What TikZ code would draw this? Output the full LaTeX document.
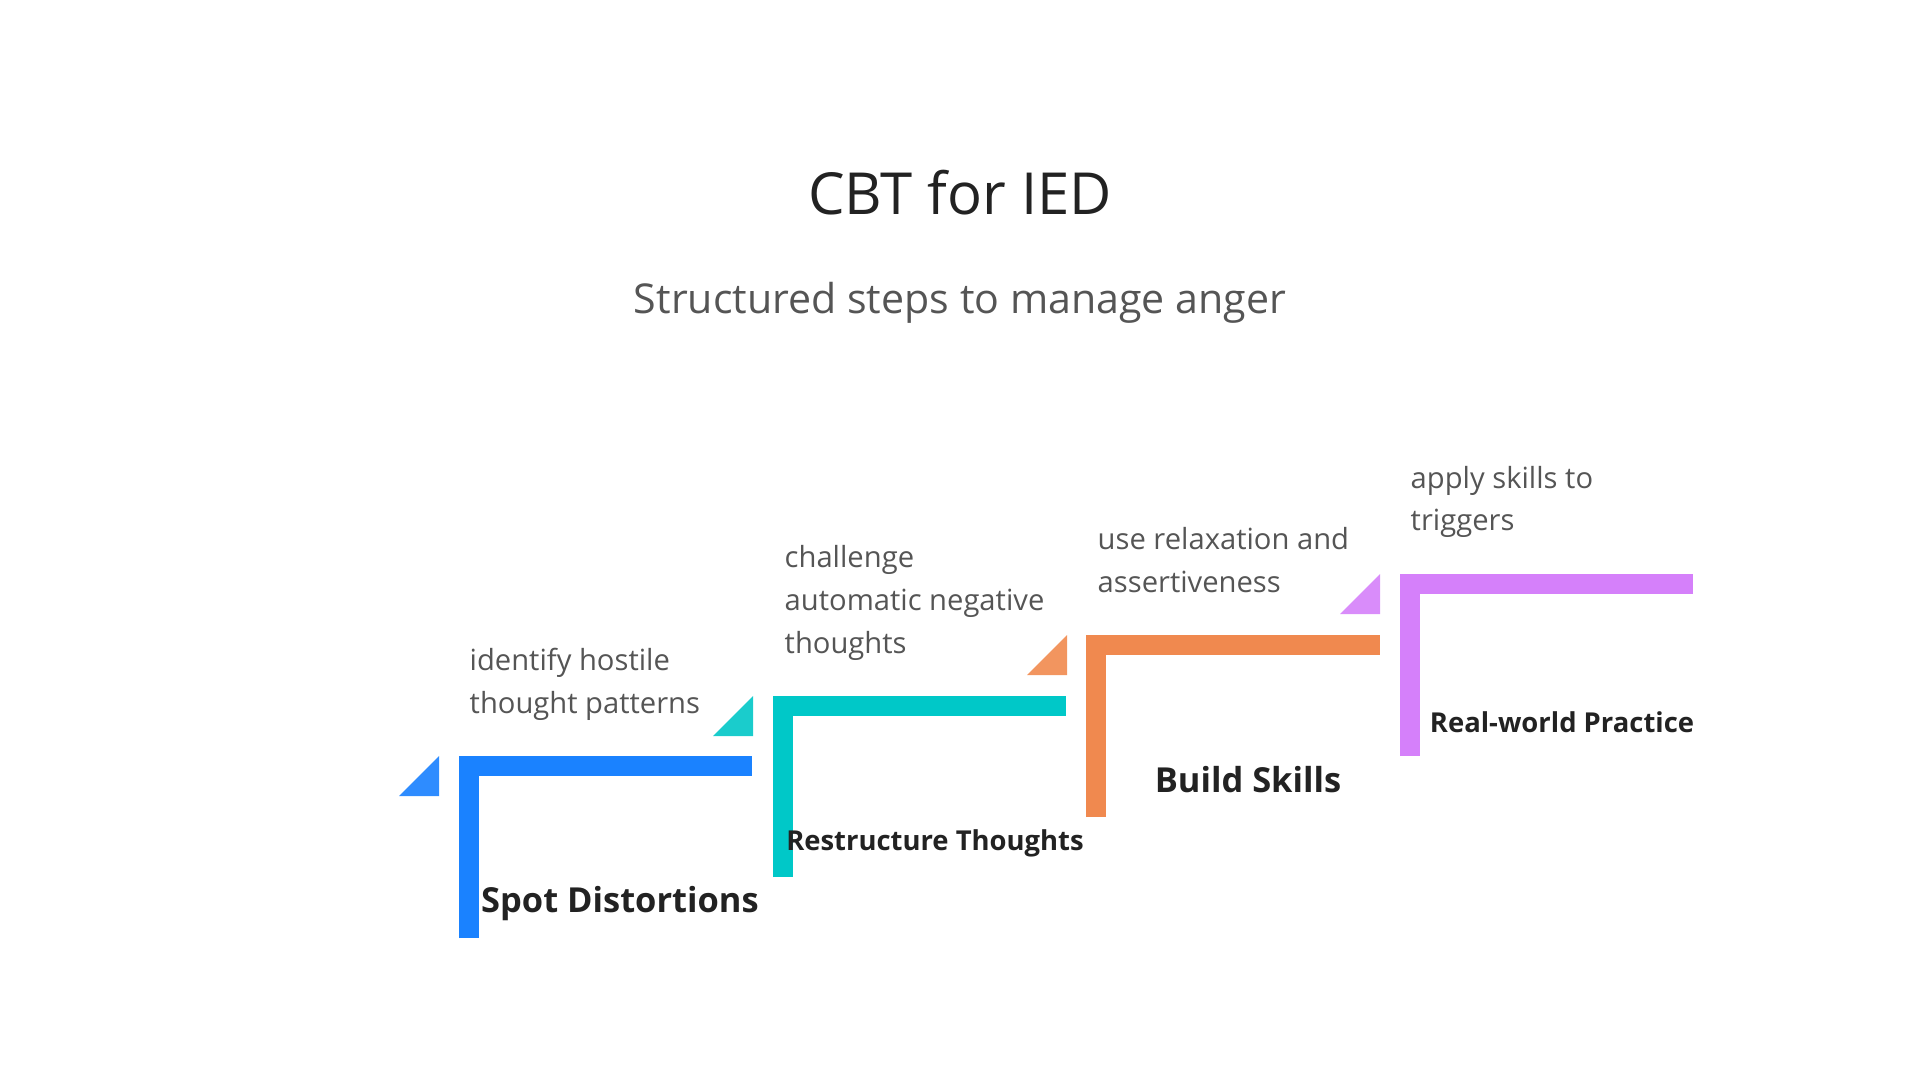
\documentclass[tikz,border=0pt]{standalone}
\usepackage{fontspec}
\setmainfont{Open Sans}
\definecolor{sdblue}{RGB}{26,130,255}
\definecolor{sdbluelt}{RGB}{46,140,255}
\definecolor{rtteal}{RGB}{0,200,200}
\definecolor{rttealt}{RGB}{26,204,204}
\definecolor{bsorange}{RGB}{240,137,79}
\definecolor{bsorangelt}{RGB}{242,149,95}
\definecolor{rwpurple}{RGB}{213,128,250}
\definecolor{rwpurplelt}{RGB}{217,140,250}
\definecolor{inkdark}{RGB}{34,34,34}
\definecolor{inkgray}{RGB}{85,85,85}
\tikzset{
  lbar/.style={line width=0.2cm,line cap=butt,line join=miter},
  desc/.style={font=\fontsize{8.3}{12.2}\selectfont,text=inkgray,align=left,anchor=base west,inner sep=0pt},
  slab/.style={font=\fontsize{9.8}{12}\selectfont\bfseries,text=inkdark,anchor=base,inner sep=0pt},
  slabsm/.style={font=\fontsize{7.8}{10}\selectfont\bfseries,text=inkdark,anchor=base,inner sep=0pt},
  ttl/.style={font=\fontsize{16.5}{20}\selectfont,text=inkdark,anchor=base,inner sep=0pt},
  subttl/.style={font=\fontsize{11.7}{14}\selectfont,text=inkgray,anchor=base,inner sep=0pt}
}

\begin{document}
\begin{tikzpicture}[x=1cm,y=-1cm]
  \useasboundingbox (0,0) rectangle (19.2,10.8);
  \node[ttl] (title) at (9.6,2.15) {CBT for IED};
  \node[subttl] (subtitle) at (9.6,3.14) {Structured steps to manage anger};
  % spot distortions
  \fill[sdbluelt] (3.99,7.96) -- (4.39,7.96) -- (4.39,7.56) -- cycle;
  \draw[lbar,sdblue] (4.69,9.38) |- (7.52,7.66);
  \node[desc] (d1) at (4.69,7.13) {identify hostile\\thought patterns};
  \node[slab] (s1) at (6.20,9.12) {Spot Distortions};
  % restructure thoughts
  \fill[rttealt] (7.13,7.36) -- (7.53,7.36) -- (7.53,6.96) -- cycle;
  \draw[lbar,rtteal] (7.83,8.77) |- (10.66,7.06);
  \node[desc] (d2) at (7.84,6.53) {challenge\\automatic negative\\thoughts};
  \node[slabsm] (s2) at (9.35,8.50) {Restructure Thoughts};
  % build skills
  \fill[bsorangelt] (10.27,6.75) -- (10.67,6.75) -- (10.67,6.35) -- cycle;
  \draw[lbar,bsorange] (10.96,8.17) |- (13.80,6.45);
  \node[desc] (d3) at (10.97,5.92) {use relaxation and\\assertiveness};
  \node[slab] (s3) at (12.48,7.92) {Build Skills};
  % real-world practice
  \fill[rwpurplelt] (13.40,6.14) -- (13.80,6.14) -- (13.80,5.74) -- cycle;
  \draw[lbar,rwpurple] (14.10,7.56) |- (16.93,5.84);
  \node[desc] (d4) at (14.10,5.31) {apply skills to\\triggers};
  \node[slabsm] (s4) at (15.62,7.32) {Real-world Practice};
\end{tikzpicture}
\end{document}
